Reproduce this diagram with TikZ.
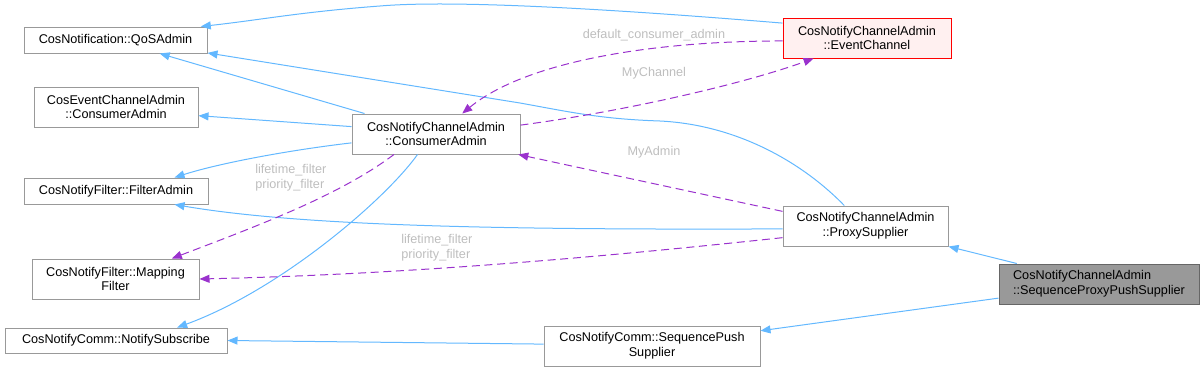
\documentclass[tikz,border=0pt]{standalone}
\usepackage{fontspec}
\setmainfont{Liberation Sans}
\usetikzlibrary{arrows.meta}
\definecolor{inhblue}{HTML}{63B8FF}
\definecolor{usepurple}{HTML}{9A32CD}
\definecolor{lblgray}{HTML}{BEBEBE}
\definecolor{boxgray}{HTML}{999999}
\definecolor{rootfill}{HTML}{999999}
\definecolor{rootdraw}{HTML}{666666}
\definecolor{hlfill}{HTML}{FFF0F0}
\begin{document}
\begin{tikzpicture}[x=0.75pt,y=-0.75pt,
  every node/.style={font=\fontsize{9.5}{11}\selectfont},
  cls/.style={draw=boxgray, fill=white, line width=0.75pt, inner sep=0pt, align=center, text=black},
  rootcls/.style={cls, draw=rootdraw, fill=rootfill, align=left},
  hlcls/.style={cls, draw=red, fill=hlfill},
  inh/.style={draw=inhblue, line width=0.75pt, -{Triangle[length=7.5pt,width=6pt]}},
  use/.style={draw=usepurple, line width=0.75pt, dash pattern=on 6pt off 3.5pt, -{Triangle[length=7.5pt,width=6pt]}},
  lbl/.style={text=lblgray, inner sep=0pt, align=left}]
\useasboundingbox (0,0) rectangle (1204,371);
% nodes
\node[cls, minimum width=137.25pt, minimum height=19.5pt] (qos) at (115.5,40) {CosNotification::QoSAdmin};
\node[cls, minimum width=123pt, minimum height=30pt] (ecca) at (116,107) {CosEventChannelAdmin\\::ConsumerAdmin};
\node[cls, minimum width=138pt, minimum height=19.5pt] (fa) at (116,191) {CosNotifyFilter::FilterAdmin};
\node[cls, minimum width=125.25pt, minimum height=30pt] (mf) at (115.5,279) {CosNotifyFilter::Mapping\\Filter};
\node[cls, minimum width=166.5pt, minimum height=18.75pt] (ns) at (116,340.5) {CosNotifyComm::NotifySubscribe};
\node[cls, minimum width=126pt, minimum height=30pt] (ca) at (436,134) {CosNotifyChannelAdmin\\::ConsumerAdmin};
\node[hlcls, minimum width=126pt, minimum height=30pt] (ec) at (867,38) {CosNotifyChannelAdmin\\::EventChannel};
\node[cls, minimum width=123.75pt, minimum height=30pt] (ps) at (865.5,226) {CosNotifyChannelAdmin\\::ProxySupplier};
\node[cls, minimum width=162pt, minimum height=30pt] (sps) at (652,346) {CosNotifyComm::SequencePush\\Supplier};
\node[rootcls, minimum width=150pt, minimum height=30pt] (spps) at (1099,284) {CosNotifyChannelAdmin\\::SequenceProxyPushSupplier};
% inheritance edges
\draw[inh] (ec.170) .. controls (600,8) and (450,0) .. (380,6) .. controls (300,12) and (260,20) .. (qos.9);
\draw[inh] (ca.164) -- (qos.-17);
\draw[inh] (ps.136) .. controls (805,165) and (740,125) .. (660,121) .. controls (600,119) and (570,112) .. (520,103) -- (qos.-8);
\draw[inh] (ca.175) -- (ecca.-6);
\draw[inh] (ca.-174) .. controls (290,150) and (220,163) .. (fa.13);
\draw[inh] (ca.-132) .. controls (385,200) and (280,290) .. (ns.12);
\draw[inh] (ps.-178) .. controls (500,230) and (300,226) .. (fa.-13);
\draw[inh] (sps.179) -- (ns.east);
\draw[inh] (spps.166) -- (ps.south east);
\draw[inh] (spps.-172) -- (sps.8);
% usage edges
\draw[use] (ec.-178) .. controls (650,41) and (525,62) .. (ca.38);
\draw[use] (ca.6) .. controls (620,112) and (740,85) .. (ec.201);
\draw[use] (ps.170) -- (ca.-14);
\draw[use] (ca.-154) .. controls (340,195) and (260,225) .. (mf.20);
\draw[use] (ps.-172) .. controls (620,255) and (420,274) .. (mf.east);
% labels
\node[lbl] (l1) at (654,35) {default\_consumer\_admin};
\node[lbl] (l2) at (654,73) {MyChannel};
\node[lbl] (l3) at (654,152) {MyAdmin};
\node[lbl, anchor=north west] (l4) at (255,164) {lifetime\_filter\\priority\_filter};
\node[lbl, anchor=north west] (l5) at (401,234) {lifetime\_filter\\priority\_filter};
\end{tikzpicture}
\end{document}
